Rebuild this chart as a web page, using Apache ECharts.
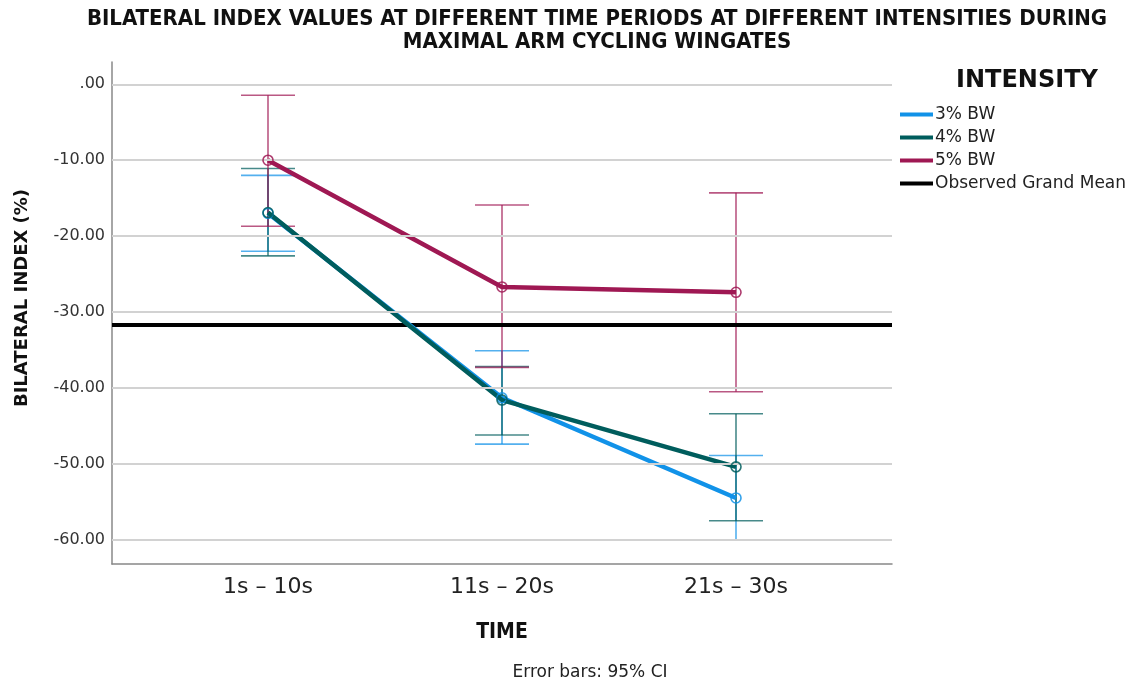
<!DOCTYPE html>
<html>
<head>
<meta charset="utf-8">
<script src="https://cdn.jsdelivr.net/npm/echarts@6/dist/echarts.min.js"></script>
<style>html,body{margin:0;padding:0;background:#fff;}#c{width:1137px;height:688px;}</style>
</head>
<body>
<div id="c"></div>
<script>
const categories = ['1s – 10s', '11s – 20s', '21s – 30s'];
const seriesNames = ['3% BW', '4% BW', '5% BW'];
const colors = ['#1192e8', '#005d5d', '#9f1853'];
const mean3 = [-17.0, -41.3, -54.5];
const low3  = [-22.0, -47.4, -60.0];
const high3 = [-12.0, -35.1, -48.9];
const mean4 = [-16.9, -41.6, -50.4];
const low4  = [-22.6, -46.2, -57.5];
const high4 = [-11.1, -37.2, -43.4];
const mean5 = [-10.0, -26.7, -27.4];
const low5  = [-18.7, -37.3, -40.5];
const high5 = [-1.45, -15.9, -14.3];
const grandMean = -31.7;
const yTicks = [0, -10, -20, -30, -40, -50, -60];

const means = [mean3, mean4, mean5];
const lows = [low3, low4, low5];
const highs = [high3, high4, high5];
const xMin = -2 / 3, xMax = 8 / 3;

const chart = echarts.init(document.getElementById('c'), null, {renderer: 'canvas'});

const series = [];
// gridlines
series.push({
  name: 'gridlines', type: 'line', data: [], z: 0, silent: true,
  markLine: {
    silent: true, symbol: 'none', label: {show: false},
    lineStyle: {color: '#d2d2d2', width: 2, type: 'solid'},
    data: yTicks.map(v => ({yAxis: v}))
  }
});
// error bars
for (let s = 0; s < 3; s++) {
  const col = colors[s];
  series.push({
    name: seriesNames[s] + ' CI', type: 'custom', z: 2, silent: true,
    data: categories.map((c, i) => [i, lows[s][i], highs[s][i], means[s][i]]),
    renderItem: function (params, api) {
      const x = api.value(0);
      const pLo = api.coord([x, api.value(1)]);
      const pHi = api.coord([x, api.value(2)]);
      const hw = 27;
      const st = {stroke: col, lineWidth: 1.6, opacity: 0.72};
      return {type: 'group', children: [
        {type: 'line', shape: {x1: pLo[0], y1: pLo[1], x2: pHi[0], y2: pHi[1]}, style: st},
        {type: 'line', shape: {x1: pLo[0] - hw, y1: pLo[1], x2: pLo[0] + hw, y2: pLo[1]}, style: st},
        {type: 'line', shape: {x1: pHi[0] - hw, y1: pHi[1], x2: pHi[0] + hw, y2: pHi[1]}, style: st}
      ]};
    }
  });
}
// grand mean
series.push({
  name: 'Observed Grand Mean', type: 'line', z: 3, color: '#000',
  data: [[xMin, grandMean], [xMax, grandMean]],
  showSymbol: false, lineStyle: {color: '#000', width: 4}, silent: true
});
// mean lines
for (let s = 0; s < 3; s++) {
  series.push({
    name: seriesNames[s], type: 'line', z: 4, color: colors[s],
    data: categories.map((c, i) => [i, means[s][i]]),
    showSymbol: false, lineStyle: {color: colors[s], width: 4.5}, silent: true
  });
}
// markers
for (let s = 0; s < 3; s++) {
  const col = colors[s];
  series.push({
    name: seriesNames[s] + ' marker', type: 'custom', z: 5, silent: true,
    data: categories.map((c, i) => [i, means[s][i]]),
    renderItem: function (params, api) {
      const p = api.coord([api.value(0), api.value(1)]);
      return {type: 'circle', shape: {cx: p[0], cy: p[1], r: 5},
        style: {fill: 'rgba(255,255,255,0)', stroke: col, lineWidth: 1.6, opacity: 0.85}};
    }
  });
}

chart.setOption({
  animation: false,
  backgroundColor: '#fff',
  title: {
    text: 'BILATERAL INDEX VALUES AT DIFFERENT TIME PERIODS AT DIFFERENT INTENSITIES DURING\nMAXIMAL ARM CYCLING WINGATES',
    left: 592, top: 3, textAlign: 'center',
    textStyle: {fontFamily: "'DejaVu Sans Condensed', 'Liberation Sans Narrow', sans-serif", fontWeight: 'bold', fontSize: 22, lineHeight: 23, color: '#111'}
  },
  grid: {left: 112, right: 245, top: 62, bottom: 124, containLabel: false},
  legend: {
    orient: 'vertical', left: 895, top: 100,
    icon: 'rect', itemWidth: 33, itemHeight: 4, itemGap: 4,
    data: ['3% BW', '4% BW', '5% BW', 'Observed Grand Mean'],
    textStyle: {fontFamily: "'DejaVu Sans', sans-serif", fontSize: 17, lineHeight: 19, color: '#222', padding: [0, 0, 0, -3]}
  },
  xAxis: {
    type: 'value', min: xMin, max: xMax,
    name: 'TIME', nameLocation: 'middle', nameGap: 58,
    nameTextStyle: {fontFamily: "'DejaVu Sans Condensed', 'DejaVu Sans', sans-serif", fontWeight: 'bold', fontSize: 21, color: '#111'},
    axisLine: {onZero: false, lineStyle: {color: '#888', width: 1.5}},
    axisTick: {show: false},
    splitLine: {show: false},
    axisLabel: {
      customValues: [0, 1, 2], margin: 12,
      formatter: v => categories[Math.round(v)],
      fontFamily: "'DejaVu Sans', sans-serif", fontSize: 22, color: '#222'
    }
  },
  yAxis: {
    type: 'value', min: -63.2, max: 2.94,
    axisLine: {show: true, onZero: false, lineStyle: {color: '#888', width: 1.5}},
    axisTick: {show: false},
    splitLine: {show: false},
    axisLabel: {
      customValues: yTicks, margin: 7,
      formatter: v => (v === 0 ? '.00' : v.toFixed(2)),
      fontFamily: "'DejaVu Sans', sans-serif", fontSize: 16, color: '#333'
    }
  },
  graphic: [
    {type: 'text', x: 22, y: 298, rotation: Math.PI / 2,
      style: {text: 'BILATERAL INDEX (%)', textAlign: 'center', textVerticalAlign: 'middle',
        fontFamily: "'DejaVu Sans', sans-serif", fontWeight: 'bold', fontSize: 18, fill: '#111'}},
    {type: 'text', x: 1027, y: 81,
      style: {text: 'INTENSITY', textAlign: 'center', textVerticalAlign: 'middle',
        fontFamily: "'DejaVu Sans', sans-serif", fontWeight: 'bold', fontSize: 24, fill: '#111'}},
    {type: 'text', x: 590, y: 673,
      style: {text: 'Error bars: 95% CI', textAlign: 'center', textVerticalAlign: 'middle',
        fontFamily: "'DejaVu Sans', sans-serif", fontSize: 17, fill: '#222'}}
  ],
  series: series
});
</script>
</body>
</html>
